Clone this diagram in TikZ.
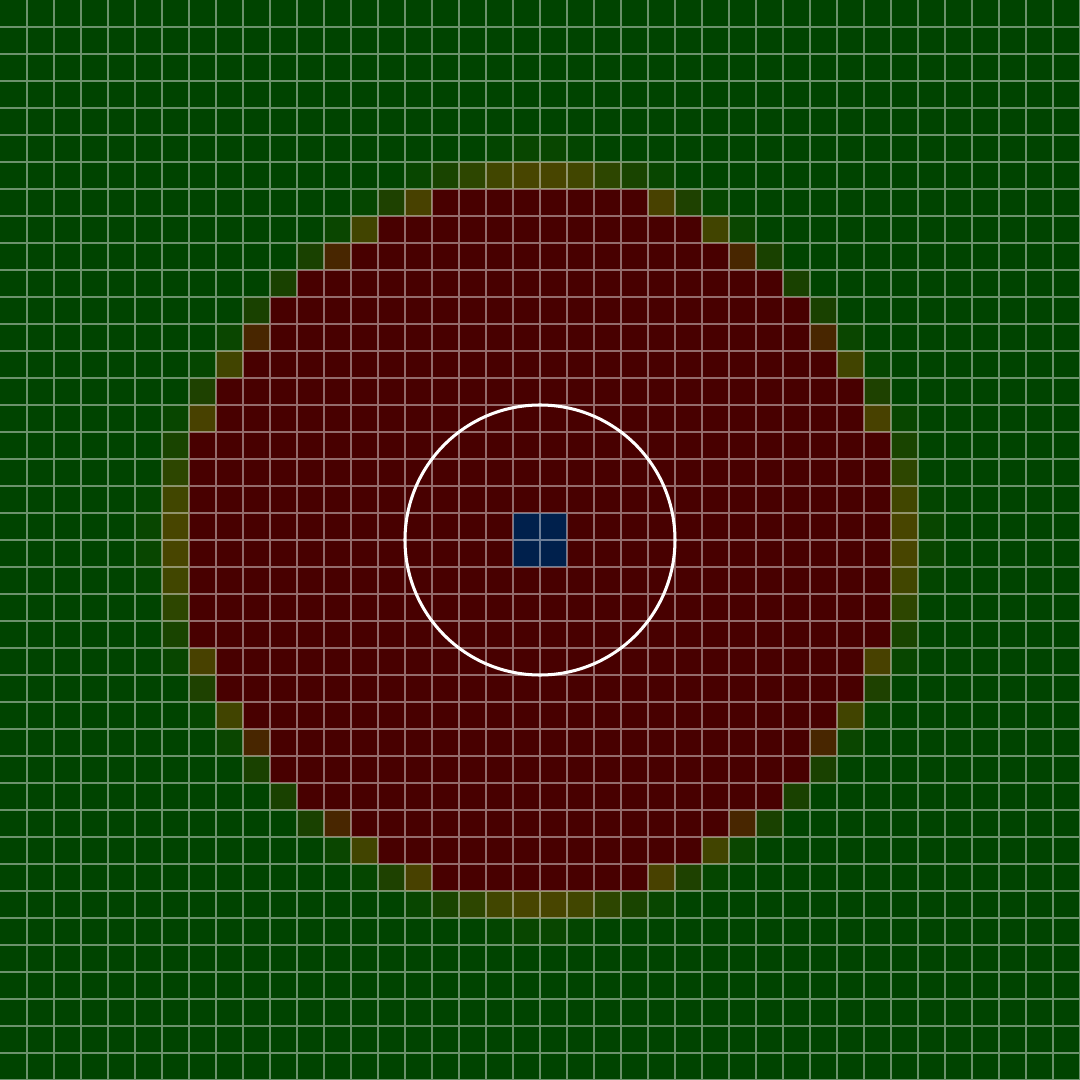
\documentclass[tikz,border=0pt]{standalone}
\definecolor{bggreen}{RGB}{0,68,0}
\definecolor{discred}{RGB}{72,0,0}
\tikzset{
  gridline/.style={draw=white, draw opacity=0.42, line width=1.05pt},
  ringline/.style={draw=white, line width=1.6pt}
}
% draw a cell and its 7 mirror images; #1 = column offset, #2 = row offset, #3 = RGB
\newcommand{\symcell}[3]{%
  \definecolor{symc}{RGB}{#3}%
  \foreach \sx in {-1,1}{\foreach \sy in {-1,1}{%
    \fill[symc] ({\sx*#1},{\sy*#2}) rectangle ({\sx*(#1+1)},{\sy*(#2+1)});
    \fill[symc] ({\sx*#2},{\sy*#1}) rectangle ({\sx*(#2+1)},{\sy*(#1+1)});
  }}%
}
\begin{document}
\begin{tikzpicture}[x=0.5cm,y=0.5cm]
\useasboundingbox (-20,-20) rectangle (20,20);
\begin{scope}
\clip (-20,-20) rectangle (20,20);
\fill[bggreen] (-20,-20) rectangle (20,20);
% red disc, row by row
\foreach \b/\m in {0/12,1/12,2/12,3/12,4/11,5/11,6/10,7/9,8/9,9/8,10/6,11/5,12/3}{
  \fill[discred] ({-\m-1},\b) rectangle ({\m+1},{\b+1});
  \fill[discred] ({-\m-1},{-\b-1}) rectangle ({\m+1},{-\b});
}
% boundary cells
\symcell{0}{14}{8,70,0}
\symcell{1}{14}{3,69,0}
\symcell{0}{13}{72,69,0}
\symcell{1}{13}{65,70,0}
\symcell{2}{13}{45,70,0}
\symcell{3}{13}{25,68,0}
\symcell{4}{13}{8,70,0}
\symcell{4}{12}{72,65,0}
\symcell{5}{12}{30,65,0}
\symcell{6}{12}{5,70,0}
\symcell{6}{11}{65,68,0}
\symcell{7}{11}{10,70,0}
\symcell{7}{10}{72,38,0}
\symcell{8}{10}{25,65,0}
\symcell{9}{9}{25,65,0}
% centre cells
\symcell{0}{0}{0,32,76}
% grid
\path[gridline]
  \foreach \k in {-19,...,20}{(\k,-20) -- (\k,20)}
  \foreach \k in {-20,...,19}{(-20,\k) -- (20,\k)};
\end{scope}
\draw[ringline] (0,0) circle (5);
\end{tikzpicture}
\end{document}
